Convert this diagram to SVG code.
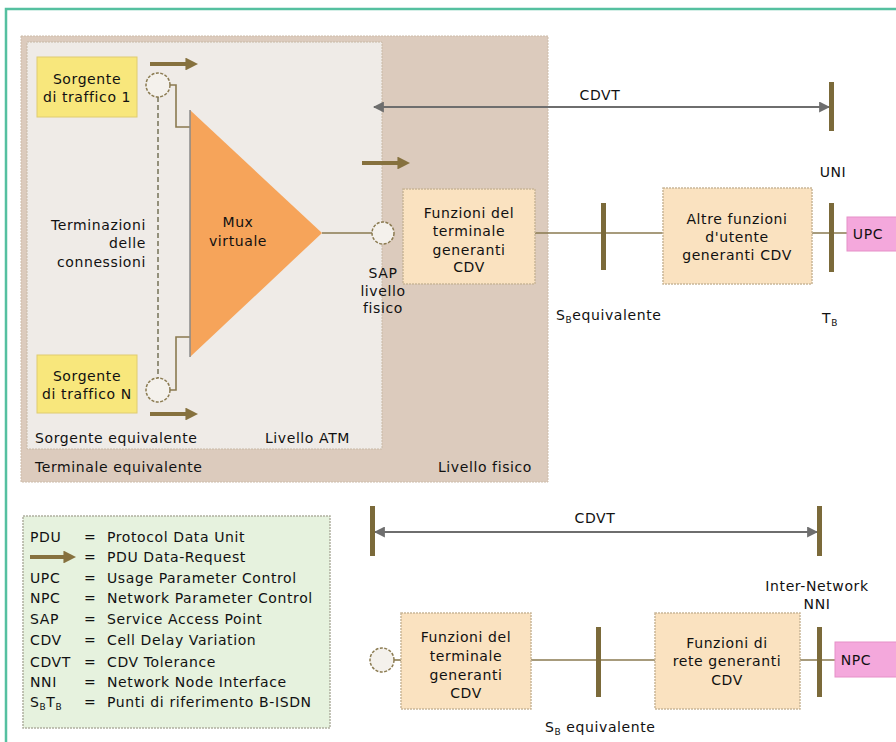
<svg xmlns="http://www.w3.org/2000/svg" width="896" height="742" viewBox="0 0 896 742">
<defs>
<style>
text{font-family:"DejaVu Sans","Liberation Sans",sans-serif;font-size:14px;letter-spacing:0.6px;fill:#111;}
.c{text-anchor:middle;}
.r{text-anchor:end;}
.box{fill:#fae2c0;stroke:#c9b698;stroke-width:1.5;stroke-dasharray:2 1;}
.src{fill:#f8e77c;stroke:#e0cc70;stroke-width:1;}
.bar{fill:#7b6a3a;}
.ln{stroke:#8a7a50;stroke-width:1.6;fill:none;}
.cdvt{stroke:#6e6e6e;stroke-width:2;fill:none;marker-start:url(#ga);marker-end:url(#ga);}
.pdu{stroke:#86713e;stroke-width:4;fill:none;marker-end:url(#pa);}
.sap{fill:#f4f1ec;stroke:#8a7a50;stroke-width:1.5;stroke-dasharray:3 1.5;}
.pink{fill:#f4a8dc;stroke:#e690c8;stroke-width:1;}
</style>
<marker id="ga" viewBox="0 0 10 10" refX="9" refY="5" markerWidth="5.5" markerHeight="5.5" orient="auto-start-reverse">
<path d="M0,0 L10,5 L0,10 z" fill="#6e6e6e"/>
</marker>
<marker id="pa" viewBox="0 0 10 10" refX="2" refY="5" markerWidth="3.2" markerHeight="3.2" orient="auto">
<path d="M0,0 L10,5 L0,10 z" fill="#86713e"/>
</marker>
</defs>
<rect x="0" y="0" width="896" height="742" fill="#ffffff"/>
<path d="M6,742 V9 H896" fill="none" stroke="#55c0a0" stroke-width="2.5"/>

<g id="livello-fisico">
<rect x="21" y="36" width="527" height="446" fill="#dccbbd" stroke="#cdbcaa" stroke-width="1" stroke-dasharray="2 1"/>
<text x="35" y="472">Terminale equivalente</text>
<text x="532" y="472" class="r">Livello fisico</text>
</g>
<g id="livello-atm">
<rect x="27" y="42" width="355" height="407" fill="#efebe7" stroke="#c8b9a6" stroke-width="1" stroke-dasharray="2 1"/>
<text x="35" y="443">Sorgente equivalente</text>
<text x="350" y="443" class="r">Livello ATM</text>
</g>

<g id="connectors">
<line x1="158" y1="97" x2="158" y2="378" stroke="#6d6a4e" stroke-width="1.4" stroke-dasharray="5 3"/>
<path class="ln" d="M170,85 H176 V127 H190"/>
<path class="ln" d="M170,390 H176 V337 H190"/>
<line class="ln" x1="322" y1="233" x2="372" y2="233"/>
<line class="ln" x1="535" y1="233" x2="663" y2="233"/>
<line class="ln" x1="812" y1="233" x2="847" y2="233"/>
<line class="ln" x1="394" y1="660" x2="401" y2="660"/>
<line class="ln" x1="531" y1="660" x2="655" y2="660"/>
<line class="ln" x1="800" y1="660" x2="835" y2="660"/>
<line class="cdvt" x1="374" y1="107" x2="829" y2="107"/>
<line class="cdvt" x1="375" y1="532" x2="817" y2="532"/>
<line class="pdu" x1="150" y1="64" x2="188" y2="64"/>
<line class="pdu" x1="150" y1="414" x2="188" y2="414"/>
<line class="pdu" x1="362" y1="163" x2="400" y2="163"/>
</g>

<g id="sorgente-1">
<rect class="src" x="37" y="57" width="100" height="60"/>
<text x="87" y="84" class="c">Sorgente</text>
<text x="87" y="102" class="c">di traffico 1</text>
</g>
<g id="sorgente-n">
<rect class="src" x="37" y="355" width="100" height="58"/>
<text x="87" y="381" class="c">Sorgente</text>
<text x="87" y="399" class="c">di traffico N</text>
</g>
<g id="circle-1"><circle class="sap" cx="158" cy="85" r="12"/></g>
<g id="circle-n"><circle class="sap" cx="158" cy="390" r="12"/></g>
<g id="terminazioni">
<text x="146" y="230" class="r">Terminazioni</text>
<text x="146" y="248" class="r">delle</text>
<text x="146" y="267" class="r">connessioni</text>
</g>
<g id="mux">
<path d="M190,110 L322,233 L190,357 Z" fill="#f6a45a"/>
<line x1="190" y1="110" x2="190" y2="357" stroke="#8a8a8a" stroke-width="1.5"/>
<text x="238" y="227" class="c">Mux</text>
<text x="238" y="246" class="c">virtuale</text>
</g>
<g id="sap">
<circle class="sap" cx="383" cy="233" r="11"/>
<text x="383" y="278" class="c">SAP</text>
<text x="383" y="296" class="c">livello</text>
<text x="383" y="313" class="c">fisico</text>
</g>
<g id="funzioni-terminale-1">
<rect class="box" x="403" y="189" width="132" height="95"/>
<text x="469" y="218" class="c">Funzioni del</text>
<text x="469" y="236" class="c">terminale</text>
<text x="469" y="255" class="c">generanti</text>
<text x="469" y="272" class="c">CDV</text>
</g>
<g id="sb-1">
<rect class="bar" x="601" y="203" width="5" height="67"/>
<text x="556" y="320">S<tspan font-size="9" dy="3">B</tspan><tspan dy="-3">equivalente</tspan></text>
</g>
<g id="altre-funzioni">
<rect class="box" x="663" y="188" width="149" height="96"/>
<text x="737" y="224" class="c">Altre funzioni</text>
<text x="737" y="242" class="c">d'utente</text>
<text x="737" y="260" class="c">generanti CDV</text>
</g>
<g id="uni">
<rect class="bar" x="829" y="203" width="5" height="69"/>
<rect class="bar" x="829" y="82" width="5" height="49"/>
<text x="833" y="177" class="c">UNI</text>
<text x="822" y="323">T<tspan font-size="9" dy="3">B</tspan></text>
</g>
<g id="upc">
<rect class="pink" x="847" y="217" width="52" height="34"/>
<text x="868" y="239" class="c">UPC</text>
</g>
<g id="cdvt-label-1"><text x="600" y="100" class="c">CDVT</text></g>

<g id="legend">
<rect x="23" y="516" width="307" height="212" fill="#e6f2de" stroke="#b0b0a0" stroke-width="1.5" stroke-dasharray="2 1"/>
<line class="pdu" x1="30" y1="557" x2="66" y2="557"/>
<text x="30" y="542">PDU</text><text x="84" y="542">=</text><text x="107" y="542">Protocol Data Unit</text>
<text x="84" y="562">=</text><text x="107" y="562">PDU Data-Request</text>
<text x="30" y="583">UPC</text><text x="84" y="583">=</text><text x="107" y="583">Usage Parameter Control</text>
<text x="30" y="603">NPC</text><text x="84" y="603">=</text><text x="107" y="603">Network Parameter Control</text>
<text x="30" y="624">SAP</text><text x="84" y="624">=</text><text x="107" y="624">Service Access Point</text>
<text x="30" y="645">CDV</text><text x="84" y="645">=</text><text x="107" y="645">Cell Delay Variation</text>
<text x="30" y="667">CDVT</text><text x="84" y="667">=</text><text x="107" y="667">CDV Tolerance</text>
<text x="30" y="687">NNI</text><text x="84" y="687">=</text><text x="107" y="687">Network Node Interface</text>
<text x="30" y="707">S<tspan font-size="9" dy="3">B</tspan><tspan dy="-3">T</tspan><tspan font-size="9" dy="3">B</tspan></text><text x="84" y="707">=</text><text x="107" y="707">Punti di riferimento B-ISDN</text>
</g>

<g id="bar-left-2"><rect class="bar" x="370" y="506" width="5" height="50"/></g>
<g id="cdvt-label-2"><text x="595" y="523" class="c">CDVT</text></g>
<g id="circle-2"><circle class="sap" cx="382" cy="660" r="12"/></g>
<g id="funzioni-terminale-2">
<rect class="box" x="401" y="613" width="130" height="96"/>
<text x="466" y="642" class="c">Funzioni del</text>
<text x="466" y="661" class="c">terminale</text>
<text x="466" y="680" class="c">generanti</text>
<text x="466" y="698" class="c">CDV</text>
</g>
<g id="sb-2">
<rect class="bar" x="596" y="627" width="5" height="70"/>
<text x="545" y="732">S<tspan font-size="9" dy="3">B</tspan><tspan dy="-3"> equivalente</tspan></text>
</g>
<g id="funzioni-rete">
<rect class="box" x="655" y="613" width="145" height="96"/>
<text x="727" y="648" class="c">Funzioni di</text>
<text x="727" y="666" class="c">rete generanti</text>
<text x="727" y="685" class="c">CDV</text>
</g>
<g id="nni">
<rect class="bar" x="817" y="627" width="5" height="70"/>
<rect class="bar" x="817" y="506" width="5" height="50"/>
<text x="817" y="591" class="c">Inter-Network</text>
<text x="817" y="609" class="c">NNI</text>
</g>
<g id="npc">
<rect class="pink" x="835" y="642" width="64" height="35"/>
<text x="856" y="665" class="c">NPC</text>
</g>
</svg>
